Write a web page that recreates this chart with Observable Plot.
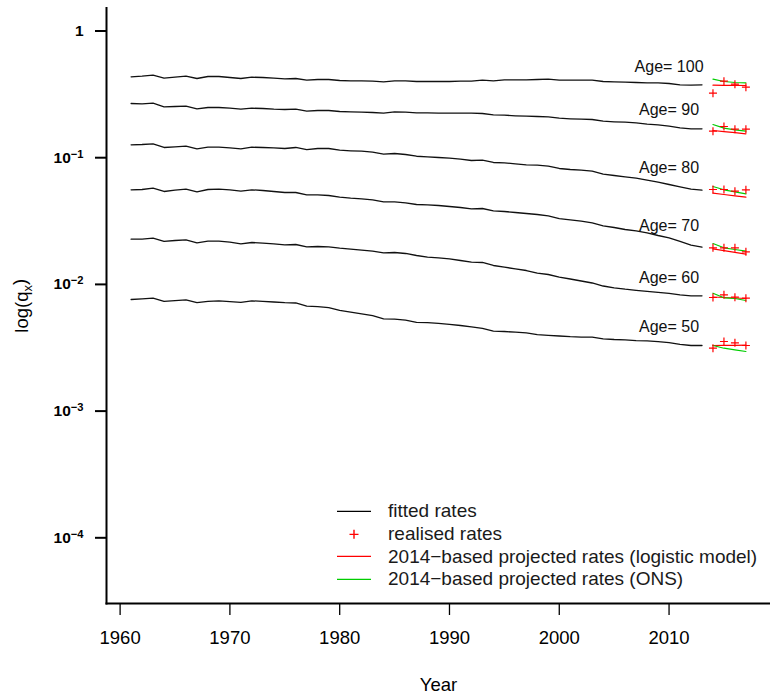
<!DOCTYPE html>
<html>
<head>
<meta charset="utf-8">
<script src="https://cdn.jsdelivr.net/npm/d3@7"></script>
<script src="https://cdn.jsdelivr.net/npm/@observablehq/plot@0.6"></script>
<style>
  html, body { margin: 0; padding: 0; background: #fff; }
  #wrap { position: relative; width: 770px; height: 696px; font-family: "Liberation Sans", Arial, sans-serif; }
  #legend { position: absolute; left: 337px; top: 500px; font-size: 19px; color: #1a1a1a; }
  .lrow { display: flex; align-items: center; height: 22.7px; white-space: nowrap; }
  .lkey { width: 51px; height: 22.7px; flex: none; }
</style>
</head>
<body>
<div id="wrap"><div id="legend"></div></div>
<script>
// ---------- data ----------
const ages = [50, 60, 70, 80, 90, 100];
const fittedYears = d3.range(1961, 2014);
const projYears = [2014, 2015, 2016, 2017];

const fitted100 = [0.4350,0.4398,0.4478,0.4241,0.4319,0.4398,0.4218,0.4374,0.4374,0.4295,
  0.4218,0.4319,0.4295,0.4241,0.4195,0.4218,0.4090,0.4142,0.4142,0.4067,
  0.4045,0.4045,0.4016,0.3972,0.4045,0.4045,0.3994,0.3994,0.3994,0.3994,
  0.4016,0.4016,0.4090,0.4045,0.4120,0.4120,0.4120,0.4142,0.4165,0.4090,
  0.4090,0.4090,0.4090,0.3994,0.3972,0.3944,0.3922,0.3901,0.3901,0.3852,
  0.3762,0.3734,0.3762];
const fitted90 = [0.2678,0.2663,0.2692,0.2522,0.2536,0.2549,0.2431,0.2490,0.2490,0.2458,
  0.2414,0.2458,0.2445,0.2414,0.2401,0.2414,0.2328,0.2358,0.2358,0.2316,
  0.2303,0.2286,0.2274,0.2245,0.2303,0.2286,0.2261,0.2261,0.2245,0.2245,
  0.2245,0.2245,0.2233,0.2181,0.2165,0.2141,0.2126,0.2114,0.2103,0.2050,
  0.2028,0.2013,0.2002,0.1941,0.1920,0.1906,0.1886,0.1838,0.1818,0.1773,
  0.1722,0.1691,0.1691];
const fitted80 = [0.1264,0.1271,0.1287,0.1204,0.1219,0.1233,0.1175,0.1210,0.1210,0.1197,
  0.1175,0.1210,0.1204,0.1197,0.1182,0.1204,0.1160,0.1182,0.1182,0.1146,
  0.1133,0.1125,0.1105,0.1066,0.1079,0.1060,0.1027,0.1016,0.1004,0.09909,
  0.09731,0.09504,0.09556,0.09167,0.09117,0.08953,0.08792,0.08728,0.08571,0.08220,
  0.08072,0.07970,0.07827,0.07410,0.07237,0.07068,0.06890,0.06644,0.06407,0.06144,
  0.05893,0.05642,0.05540];
const fitted70 = [0.05581,0.05610,0.05744,0.05411,0.05540,0.05642,0.05381,0.05610,0.05642,0.05581,
  0.05440,0.05581,0.05510,0.05411,0.05313,0.05313,0.05096,0.05096,0.05031,0.04878,
  0.04790,0.04738,0.04653,0.04487,0.04487,0.04406,0.04272,0.04249,0.04195,0.04119,
  0.04045,0.03950,0.03972,0.03809,0.03761,0.03693,0.03627,0.03561,0.03478,0.03311,
  0.03234,0.03153,0.03062,0.02901,0.02813,0.02712,0.02649,0.02555,0.02432,0.02332,
  0.02182,0.02040,0.01967];
const fitted60 = [0.02274,0.02274,0.02315,0.02182,0.02221,0.02250,0.02130,0.02193,0.02193,0.02153,
  0.02091,0.02141,0.02114,0.02091,0.02054,0.02065,0.01981,0.01991,0.01981,0.01931,
  0.01896,0.01862,0.01828,0.01773,0.01786,0.01754,0.01691,0.01639,0.01622,0.01592,
  0.01544,0.01497,0.01489,0.01410,0.01367,0.01328,0.01287,0.01226,0.01197,0.01140,
  0.01103,0.01064,0.01026,0.009713,0.009401,0.009165,0.008983,0.008820,0.008662,0.008506,
  0.008277,0.008128,0.008128];
const fitted50 = [0.007601,0.007698,0.007797,0.007357,0.007451,0.007546,0.007173,0.007357,0.007411,0.007317,
  0.007225,0.007411,0.007357,0.007264,0.007173,0.007134,0.006727,0.006678,0.006558,0.006234,
  0.006033,0.005850,0.005662,0.005353,0.005314,0.005219,0.005022,0.004985,0.004922,0.004834,
  0.004738,0.004619,0.004503,0.004279,0.004248,0.004194,0.004141,0.004015,0.003964,0.003914,
  0.003865,0.003837,0.003837,0.003720,0.003673,0.003646,0.003600,0.003581,0.003536,0.003466,
  0.003360,0.003294,0.003294];

const realised100 = [0.3229,0.4016,0.3803,0.3601];
const logistic100 = [0.3734,0.3727,0.3720,0.3714];
const ons100      = [0.4165,0.3994,0.3922,0.3901];
const realised90  = [0.1619,0.1763,0.1679,0.1679];
const logistic90  = [0.1639,0.1607,0.1575,0.1544];
const ons90       = [0.1828,0.1710,0.1660,0.1619];
const realised80  = [0.05611,0.05611,0.05440,0.05581];
const logistic80  = [0.05245,0.05123,0.04995,0.04878];
const ons80       = [0.05925,0.05581,0.05381,0.05189];
const realised70  = [0.01945,0.01945,0.01945,0.01809];
const logistic70  = [0.01910,0.01848,0.01789,0.01731];
const ons70       = [0.02103,0.01945,0.01886,0.01828];
const realised60  = [0.007882,0.008277,0.007925,0.007782];
const logistic60  = [0.007953,0.007882,0.007810,0.007739];
const ons60       = [0.008521,0.007839,0.007739,0.007462];
const realised50  = [0.003136,0.003542,0.003460,0.003294];
const logistic50  = [0.003294,0.003300,0.003306,0.003313];
const ons50       = [0.003294,0.003136,0.003047,0.002954];

// "Age= .." labels (year, rate) placed above each curve
const labelYear = 2010;
const labelRates = [0.004656, 0.01133, 0.0292, 0.0837, 0.240, 0.525];

const yTicks = [1, 1e-1, 1e-2, 1e-3, 1e-4];
const xTicks = [1960, 1970, 1980, 1990, 2000, 2010];

const legendLabels = ["fitted rates", "realised rates",
  "2014\u2212based projected rates (logistic model)",
  "2014\u2212based projected rates (ONS)"];
const legendKinds = ["line", "plus", "line", "line"];

// ---------- build tables ----------
const RED = "#FF0000", GREEN = "#00CD00";
const legendColors = ["#000000", RED, RED, GREEN];
const fittedByAge = {50: fitted50, 60: fitted60, 70: fitted70, 80: fitted80, 90: fitted90, 100: fitted100};
const projByAge = {
  50: [realised50, logistic50, ons50], 60: [realised60, logistic60, ons60],
  70: [realised70, logistic70, ons70], 80: [realised80, logistic80, ons80],
  90: [realised90, logistic90, ons90], 100: [realised100, logistic100, ons100]
};
const fitted = ages.flatMap(a => fittedYears.map((y, i) => ({age: a, year: y, q: fittedByAge[a][i]})));
const proj = ages.flatMap(a => projYears.map((y, i) => ({
  age: a, year: y, realised: projByAge[a][0][i], logistic: projByAge[a][1][i], ons: projByAge[a][2][i]
})));
const labels = ages.map((a, i) => ({age: a, year: labelYear, q: labelRates[i]}));

const plusSymbol = {
  draw(ctx, size) {
    const h = Math.sqrt(size / Math.PI);
    ctx.moveTo(-h, 0); ctx.lineTo(h, 0);
    ctx.moveTo(0, -h); ctx.lineTo(0, h);
  }
};

const chart = Plot.plot({
  width: 770, height: 696,
  marginLeft: 106, marginRight: 0, marginTop: 7.5, marginBottom: 93,
  style: {fontFamily: "'Liberation Sans', Arial, sans-serif", background: "white", color: "black", overflow: "visible"},
  x: {domain: [1958.76, 2019.24]},
  y: {type: "log", domain: [Math.pow(10, -4.5185), Math.pow(10, 0.1815)]},
  marks: [
    Plot.axisX({ticks: xTicks, tickFormat: d => String(d), tickSize: 12, tickPadding: 15,
      fontSize: 18.5, strokeWidth: 1.3, label: "Year", labelAnchor: "center", labelArrow: "none", labelOffset: 87}),
    Plot.axisY({ticks: yTicks, tickFormat: d => d === 1 ? "1" : "10^" + Math.round(Math.log10(d)),
      tickSize: 11, tickPadding: 12, fontSize: 15.5, fontWeight: "bold", strokeWidth: 2,
      label: "log(qx)", labelAnchor: "center", labelArrow: "none", labelOffset: 92}),
    Plot.frame({anchor: "left", strokeWidth: 2}),
    Plot.frame({anchor: "bottom", strokeWidth: 2}),
    Plot.line(fitted, {x: "year", y: "q", z: "age", stroke: "#111", strokeWidth: 1.3}),
    Plot.line(proj, {x: "year", y: "logistic", z: "age", stroke: RED, strokeWidth: 1.2}),
    Plot.line(proj, {x: "year", y: "ons", z: "age", stroke: GREEN, strokeWidth: 1.2}),
    Plot.dot(proj, {x: "year", y: "realised", symbol: plusSymbol, r: 4, stroke: RED, fill: "none", strokeWidth: 1.2}),
    Plot.text(labels, {x: "year", y: "q", text: d => "Age= " + d.age, fontSize: 16, fill: "#111"})
  ]
});
document.getElementById("wrap").prepend(chart);

// superscript exponents on y tick labels
chart.querySelectorAll('[aria-label="y-axis tick label"] text').forEach(t => {
  const s = t.textContent;
  if (s.includes("^")) {
    const [b, e] = s.split("^");
    t.textContent = "";
    const ns = "http://www.w3.org/2000/svg";
    const t1 = document.createElementNS(ns, "tspan"); t1.textContent = b;
    const t2 = document.createElementNS(ns, "tspan"); t2.textContent = e.replace("-", "\u2212");
    t2.setAttribute("dy", "-0.45em"); t2.setAttribute("font-size", "72%");
    t.appendChild(t1); t.appendChild(t2);
  }
});
// subscript in y label
const yl = chart.querySelector('[aria-label="y-axis label"]');
if (yl) {
  yl.setAttribute("font-weight", "normal");
  yl.setAttribute("font-size", "18.5");
  const t = yl.querySelector("text");
  if (t) t.innerHTML = 'log(q<tspan font-size="70%" dy="0.3em">x</tspan><tspan dy="-0.3em">)</tspan>';
}

// legend
const lg = document.getElementById("legend");
legendLabels.forEach((lab, i) => {
  const row = document.createElement("div"); row.className = "lrow";
  const c = legendColors[i];
  const key = legendKinds[i] === "line"
    ? `<svg class="lkey" width="51" height="22.7"><line x1="0" x2="34" y1="11.35" y2="11.35" stroke="${c}" stroke-width="1.2"/></svg>`
    : `<svg class="lkey" width="51" height="22.7"><path d="M12.5,11.35h9M17,6.85v9" stroke="${c}" stroke-width="1.4" fill="none"/></svg>`;
  row.innerHTML = key + `<span>${lab}</span>`;
  lg.appendChild(row);
});
</script>
</body>
</html>
